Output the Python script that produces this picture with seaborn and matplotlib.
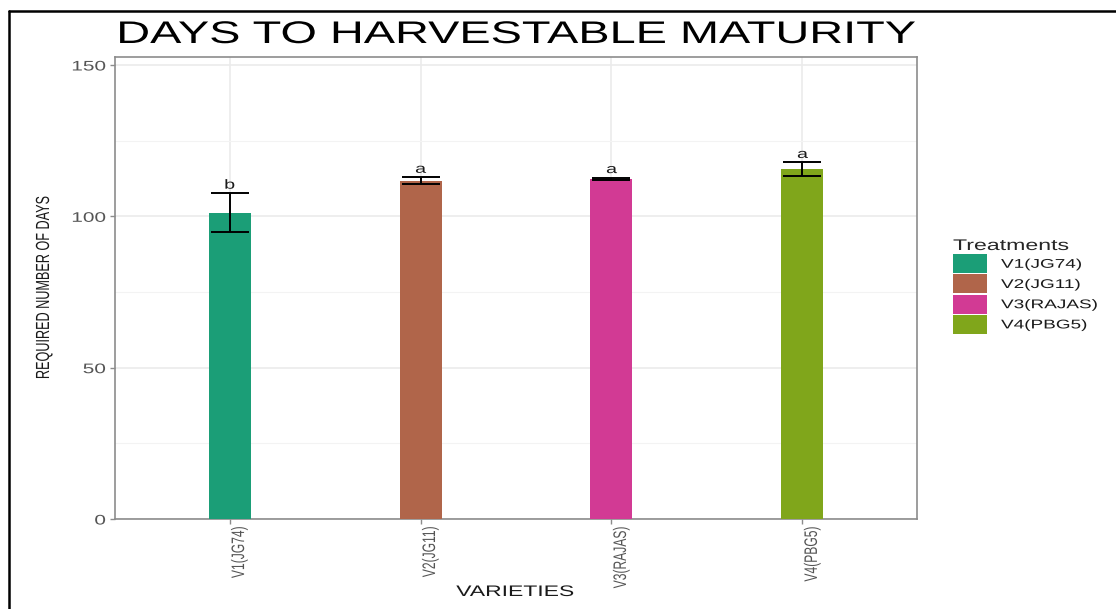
import matplotlib
matplotlib.use("Agg")
import matplotlib.pyplot as plt
from matplotlib.patches import Patch
from matplotlib.lines import Line2D
from matplotlib.patheffects import AbstractPathEffect
from matplotlib.transforms import Affine2D, ScaledTranslation
import seaborn as sns
import pandas as pd

# ---- data ----
varieties = ["V1(JG74)", "V2(JG11)", "V3(RAJAS)", "V4(PBG5)"]
mean_days = [101.2, 111.8, 112.4, 115.6]
err_days = [6.45, 1.1, 0.4, 2.2]
letters = ["b", "a", "a", "a"]
colors = ["#1B9E77", "#B0654A", "#D23A94", "#80A61B"]

title = "DAYS TO HARVESTABLE MATURITY"
xlabel = "VARIETIES"
ylabel = "REQUIRED NUMBER OF DAYS"
legend_title = "Treatments"
yticks = [0, 50, 100, 150]
yminor = [25, 75, 125]

df = pd.DataFrame({"variety": varieties, "days": mean_days, "err": err_days})

sns.set_theme(style="white")
plt.rcParams["font.family"] = ["Liberation Sans", "DejaVu Sans"]

STRETCH = 1.5  # the reference's text is drawn wide (horizontally stretched)


class HStretch(AbstractPathEffect):
    """Draw text glyphs horizontally stretched about a fixed x (display px)."""

    def __init__(self, sx, cx):
        super().__init__()
        self.sx, self.cx = sx, cx

    def draw_path(self, renderer, gc, tpath, affine, rgbFace=None):
        t = affine + Affine2D().translate(-self.cx, 0).scale(self.sx, 1).translate(self.cx, 0)
        renderer.draw_path(gc, tpath, t, rgbFace)


W, H = 1116, 609
fig = plt.figure(figsize=(W / 100, H / 100), dpi=100)
ax = fig.add_axes([115 / W, 1 - 519 / H, 802 / W, 462 / H])

sns.barplot(data=df, x="variety", y="days", hue="variety", palette=colors,
            width=0.22, saturation=1, errorbar=None, legend=False,
            linewidth=0, ax=ax, zorder=3)

xpos = list(range(len(varieties)))
ax.errorbar(xpos, df["days"], yerr=df["err"], fmt="none", ecolor="black",
            elinewidth=1.4, capsize=13.7, capthick=1.4, zorder=4)

letter_texts = []
for x, m, e, lab in zip(xpos, mean_days, err_days, letters):
    letter_texts.append(ax.text(x, m + e + 0.5, lab, ha="center", va="bottom",
                                fontsize=9.5, color="#1a1a1a", zorder=5))

ax.set_xlim(-0.6, len(varieties) - 0.4)
ax.set_ylim(0, 152.64)
ax.set_yticks(yticks)
ax.set_yticks(yminor, minor=True)
ax.grid(True, which="major", axis="both", color="#EBEBEB", linewidth=1.2, zorder=0)
ax.grid(True, which="minor", axis="y", color="#F3F3F3", linewidth=0.8, zorder=0)
ax.set_axisbelow(True)

for s in ax.spines.values():
    s.set_visible(True)
    s.set_color("#8c8c8c")
    s.set_linewidth(1.2)

ax.tick_params(axis="both", which="major", length=3.6, width=1.0, color="#8c8c8c",
               colors="#555555", direction="out", bottom=True, left=True)
ax.tick_params(axis="y", which="minor", length=0)
ax.tick_params(axis="y", labelsize=10, pad=2.9)
ax.tick_params(axis="x", labelsize=8.7, pad=1.5)
xoff = ScaledTranslation(10 / 100, 0, fig.dpi_scale_trans)
for lbl in ax.get_xticklabels():
    lbl.set_rotation(90)
    lbl.set_va("top")
    lbl.set_transform(lbl.get_transform() + xoff)

ax.set_xlabel("")
ax.set_ylabel("")
xlab = fig.text(515 / W, 1 - 592 / H, xlabel, ha="center", va="center",
                fontsize=11, color="#1a1a1a")
ylab = fig.text(44.5 / W, 1 - 288 / H, ylabel, ha="center", va="center",
                rotation=90, fontsize=9.1, color="#1a1a1a")

ttl = fig.text(516 / W, 1 - 35 / H, title, ha="center", va="center",
               fontsize=22.5, color="black")

handles = [Patch(facecolor=c, edgecolor="none") for c in colors]
leg = fig.legend(handles, varieties, title=legend_title, loc="upper left",
                 bbox_to_anchor=(953 / W, 1 - 239 / H), frameon=False,
                 fontsize=9.1, title_fontsize=11.1, handlelength=2.7,
                 handleheight=1.93, labelspacing=0.1, handletextpad=1.1,
                 borderpad=0, borderaxespad=0, alignment="left")
for t in leg.get_texts():
    t.set_color("#1a1a1a")

# image frame lines (top and left)
fig.add_artist(Line2D([9 / W, 1.0], [1 - 11 / H, 1 - 11 / H], color="black",
                      linewidth=1.8, transform=fig.transFigure))
fig.add_artist(Line2D([9 / W, 9 / W], [1 - 11 / H, 0.0], color="black",
                      linewidth=1.8, transform=fig.transFigure))

# apply the horizontal stretch to every text, anchored per alignment
fig.canvas.draw()
renderer = fig.canvas.get_renderer()


def stretch(t, mode):
    bb = t.get_window_extent(renderer)
    cx = {"left": bb.x0, "right": bb.x1, "center": (bb.x0 + bb.x1) / 2}[mode]
    t.set_path_effects([HStretch(STRETCH, cx)])


stretch(ttl, "center")
stretch(xlab, "center")
stretch(ylab, "center")
for t in letter_texts:
    stretch(t, "center")
for t in ax.get_yticklabels():
    stretch(t, "right")
for t in ax.get_xticklabels():
    stretch(t, "center")
stretch(leg.get_title(), "left")
for t in leg.get_texts():
    stretch(t, "left")

fig.savefig("out.png", dpi=100)
